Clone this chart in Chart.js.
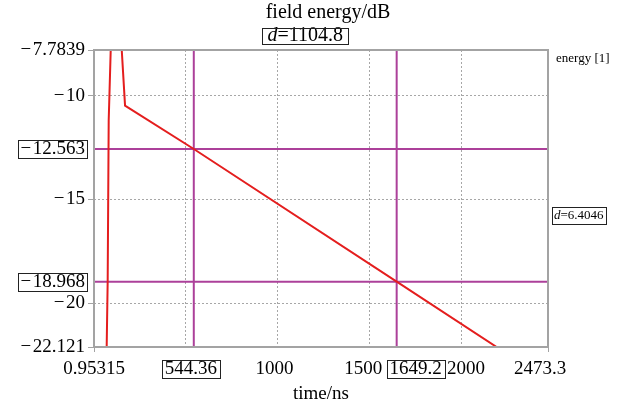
<!DOCTYPE html>
<html>
<head>
<meta charset="utf-8">
<script src="https://cdn.jsdelivr.net/npm/chart.js@4"></script>
<style>
  html, body { margin: 0; padding: 0; background: #fff; }
  #wrap { width: 617px; height: 404px; }
</style>
</head>
<body>
<div id="wrap"><canvas id="charts"></canvas></div>
<script>
// field energy trace (dB) vs time (ns)
const timeNs   = [66, 70, 75.5, 81, 92, 100, 120, 140, 152, 170, 544.36, 1649.2, 2200];
const energyDb = [-23, -22.12, -18.9, -11.2, -7.78, -6.5, -5.8, -6.3, -7.78, -10.47, -12.563, -18.968, -22.16];

// axis ticks and labels
const xTicks      = [0.95315, 500, 1000, 1500, 2000, 2473.3];
const xTickLabels = ['0.95315', '', '1000', '1500', '2000', '2473.3'];
const yTicks      = [-7.7839, -10, -15, -20, -22.121];
const yTickLabels = ['\u2212\u200A7.7839', '\u2212\u200A10', '\u2212\u200A15', '\u2212\u200A20', '\u2212\u200A22.121'];
const xGrid = [500, 1000, 1500, 2000];
const yGrid = [-10, -15, -20];

// cursor markers
const markerX = [544.36, 1649.2];
const markerXLabels = ['544.36', '1649.2'];
const markerY = [-12.563, -18.968];
const markerYLabels = ['\u2212\u200A12.563', '\u2212\u200A18.968'];
const deltaLabels = ['1104.8', '6.4046'];

const SERIF = '"Liberation Serif", "DejaVu Serif", serif';
const markerColor = 'rgb(172, 64, 154)';

let curve = timeNs.map((t, i) => ({ x: t, y: energyDb[i] }));
let xMin = xTicks[0], xMax = xTicks[xTicks.length - 1];
let yMax = yTicks[0], yMin = yTicks[yTicks.length - 1];

let markerSets = [];
markerX.forEach(function (v) {
  markerSets.push({ data: [{ x: v, y: yMin }, { x: v, y: yMax }], borderColor: markerColor, borderWidth: 2, pointRadius: 0 });
});
markerY.forEach(function (v) {
  markerSets.push({ data: [{ x: xMin, y: v }, { x: xMax, y: v }], borderColor: markerColor, borderWidth: 2, pointRadius: 0 });
});

function boxText(ctx, parts, x, y, align, padX, h, boxed) {
  // parts: [[text, font], ...]
  let w = 0;
  parts.forEach(function (p) { ctx.font = p[1]; w += ctx.measureText(p[0]).width; });
  let left = align == 'right' ? x - w : (align == 'center' ? x - w / 2 : x);
  ctx.textBaseline = 'middle';
  ctx.textAlign = 'left';
  ctx.fillStyle = '#000';
  let cx = left;
  parts.forEach(function (p) { ctx.font = p[1]; ctx.fillText(p[0], cx, y); cx += ctx.measureText(p[0]).width; });
  if (boxed) {
    ctx.strokeStyle = '#222';
    ctx.lineWidth = 1;
    ctx.strokeRect(Math.round(left - padX) + 0.5, Math.round(y - h / 2) + 0.5, Math.round(w + 2 * padX), Math.round(h));
  }
}

const decorations = {
  id: 'decorations',
  afterDraw(chart) {
    const { ctx, chartArea, scales: { x, y } } = chart;
    ctx.save();
    // plot frame
    ctx.strokeStyle = '#a3a3a3';
    ctx.lineWidth = 2;
    ctx.strokeRect(chartArea.left, chartArea.top, chartArea.right - chartArea.left, chartArea.bottom - chartArea.top);

    // title
    ctx.fillStyle = '#000';
    ctx.font = '20px ' + SERIF;
    ctx.textAlign = 'center';
    ctx.textBaseline = 'middle';
    ctx.fillText('field energy/dB', 328, 13);

    // legend entry
    ctx.font = '13px ' + SERIF;
    ctx.textAlign = 'left';
    ctx.fillText('energy [1]', 556, 59);

    // x tick labels, nudged apart like the original
    const labelShift = [0, 0, -3, -6, 5, -8];
    xTicks.forEach(function (v, i) {
      if (xTickLabels[i]) boxText(ctx, [[xTickLabels[i], '19px ' + SERIF]], x.getPixelForValue(v) + labelShift[i], 369, 'center', 0, 0, false);
    });

    // boxed marker labels on x
    const xShift = [-3, 19];
    markerX.forEach(function (v, i) {
      boxText(ctx, [[markerXLabels[i], '19px ' + SERIF]], x.getPixelForValue(v) + xShift[i], 369, 'center', 3, 18, true);
    });
    // boxed marker labels on y
    markerY.forEach(function (v, i) {
      boxText(ctx, [[markerYLabels[i], '19px ' + SERIF]], 85, y.getPixelForValue(v), 'right', 2, 18, true);
    });

    // deltas between markers
    boxText(ctx, [['d', 'italic 20px ' + SERIF], ['=' + deltaLabels[0], '20px ' + SERIF]],
      (x.getPixelForValue(markerX[0]) + x.getPixelForValue(markerX[1])) / 2 + 10, 35.5, 'center', 5, 16, true);
    boxText(ctx, [['d', 'italic 13px ' + SERIF], ['=' + deltaLabels[1], '13px ' + SERIF]],
      554, (y.getPixelForValue(markerY[0]) + y.getPixelForValue(markerY[1])) / 2, 'left', 2, 17, true);
    ctx.restore();
  }
};

Chart.defaults.font.family = SERIF;
Chart.defaults.color = '#000';

new Chart(document.getElementById('charts'), {
  type: 'line',
  data: {
    datasets: [
      { label: 'energy [1]', data: curve, borderColor: 'rgb(228, 30, 30)', borderWidth: 2, pointRadius: 0, tension: 0 }
    ].concat(markerSets)
  },
  options: {
    responsive: true,
    maintainAspectRatio: false,
    animation: false,
    events: [],
    layout: { padding: { top: 50, right: 69, left: 0, bottom: 0 } },
    plugins: { legend: { display: false }, tooltip: { enabled: false } },
    scales: {
      x: {
        type: 'linear',
        min: xMin,
        max: xMax,
        afterBuildTicks: function (scale) { scale.ticks = xTicks.map(v => ({ value: v })); },
        afterFit: function (scale) { scale.height = 57; },
        ticks: {
          autoSkip: false,
          maxRotation: 0,
          padding: 5,
          font: { size: 19 },
          // labels are drawn by the decorations plugin so they can be nudged
          callback: function () { return ''; }
        },
        grid: {
          color: c => (c.tick && xGrid.includes(c.tick.value)) ? 'rgba(120,120,120,0.65)' : 'transparent',
          tickColor: c => (c.index === 0 || c.index === xTicks.length - 1) ? '#a3a3a3' : 'transparent',
          tickLength: 5,
          tickBorderDash: [],
          lineWidth: 1
        },
        border: { display: false, dash: [2, 2] },
        title: { display: true, text: 'time/ns', font: { size: 19 }, padding: { top: 0, bottom: -1 } }
      },
      y: {
        type: 'linear',
        min: yMin,
        max: yMax,
        afterBuildTicks: function (scale) { scale.ticks = yTicks.map(v => ({ value: v })); },
        afterFit: function (scale) { scale.width = 94; },
        ticks: {
          autoSkip: false,
          padding: 3,
          font: { size: 19 },
          callback: function (value, index) { return yTickLabels[index]; }
        },
        grid: {
          color: c => (c.tick && yGrid.includes(c.tick.value)) ? 'rgba(120,120,120,0.65)' : 'transparent',
          tickColor: '#a3a3a3',
          tickLength: 6,
          tickBorderDash: [],
          lineWidth: 1
        },
        border: { display: false, dash: [2, 2] }
      }
    }
  },
  plugins: [decorations]
});
</script>
</body>
</html>
